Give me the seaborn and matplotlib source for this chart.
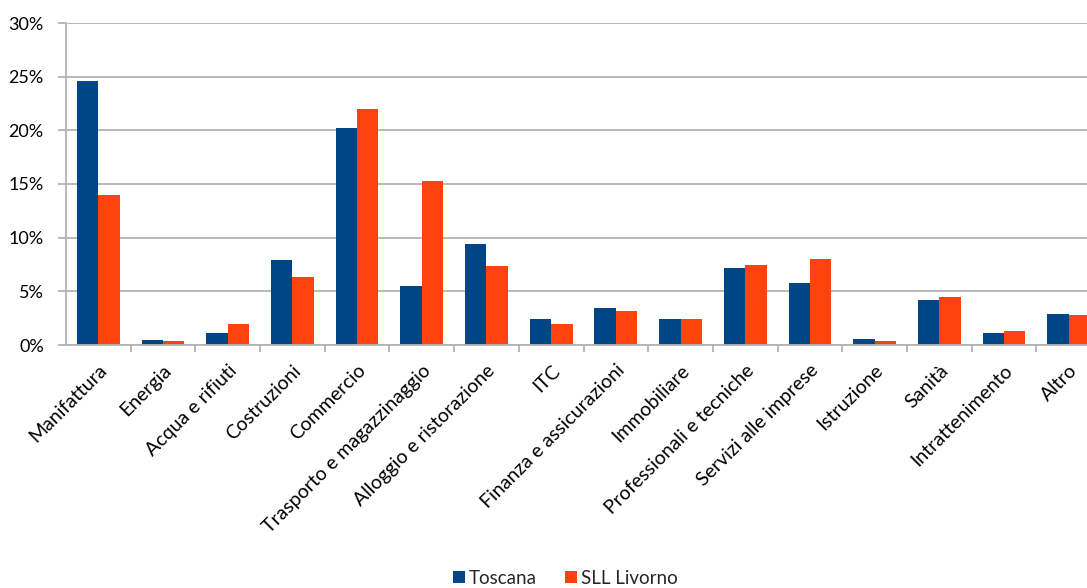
import matplotlib
matplotlib.use("Agg")
import matplotlib.pyplot as plt
import seaborn as sns
import pandas as pd
import numpy as np
from matplotlib.ticker import FuncFormatter, FixedLocator
from matplotlib.patches import Patch

categories = [
    "Manifattura", "Energia", "Acqua e rifiuti", "Costruzioni", "Commercio",
    "Trasporto e magazzinaggio", "Alloggio e ristorazione", "ITC",
    "Finanza e assicurazioni", "Immobiliare", "Professionali e tecniche",
    "Servizi alle imprese", "Istruzione", "Sanità", "Intrattenimento", "Altro",
]
toscana = [24.6, 0.45, 1.1, 7.9, 20.2, 5.5, 9.45, 2.4, 3.45, 2.45, 7.2, 5.75, 0.55, 4.2, 1.15, 2.9]
livorno = [14.0, 0.4, 1.95, 6.35, 22.0, 15.25, 7.4, 1.95, 3.2, 2.45, 7.45, 8.0, 0.4, 4.45, 1.3, 2.8]
series = ["Toscana", "SLL Livorno"]
colors = ["#004586", "#ff420e"]
y_ticks = [0, 5, 10, 15, 20, 25, 30]

df = pd.DataFrame({
    "settore": categories * 2,
    "valore": toscana + livorno,
    "area": [series[0]] * len(categories) + [series[1]] * len(categories),
})

sns.set_theme(style="white")
plt.rcParams["font.family"] = ["Lato", "DejaVu Sans"]

W, H = 1087, 588
fig = plt.figure(figsize=(W / 100, H / 100), dpi=100)
ax = fig.add_axes([66 / W, (H - 345) / H, (1101 - 66) / W, (345 - 23) / H])

sns.barplot(data=df, x="settore", y="valore", hue="area", order=categories,
            hue_order=series, palette=colors, width=0.66, gap=0,
            saturation=1, legend=False, ax=ax, edgecolor="none", linewidth=0)

ax.set_xlim(-0.5, len(categories) - 0.5)
ax.set_ylim(0, 30)
ax.yaxis.set_major_locator(FixedLocator(y_ticks))
ax.yaxis.set_major_formatter(FuncFormatter(lambda v, p: f"{v:.0f}%"))
ax.grid(axis="y", color="#b3b3b3", linewidth=1.3)
ax.set_axisbelow(True)

for s in ["top", "right"]:
    ax.spines[s].set_visible(False)
for s in ["left", "bottom"]:
    ax.spines[s].set_color("#b3b3b3")
    ax.spines[s].set_linewidth(1.3)

ax.tick_params(axis="y", which="major", length=6, width=1.3, color="#b3b3b3",
               labelsize=13, labelcolor="#000000", pad=10, left=True)
ax.set_xticks(np.arange(len(categories)))
ax.set_xticklabels(categories, rotation=45, ha="right", va="top",
                   rotation_mode="anchor", fontsize=14, color="#000000")
ax.tick_params(axis="x", which="major", length=0, pad=12)
ax.xaxis.set_minor_locator(FixedLocator(np.arange(0.5, len(categories), 1)))
ax.tick_params(axis="x", which="minor", length=5, width=1.3, color="#b3b3b3",
               bottom=True)
ax.set_xlabel("")
ax.set_ylabel("")

handles = [Patch(facecolor=c, edgecolor="none") for c in colors]
fig.legend(handles, series, loc="center", bbox_to_anchor=(565 / W, 1 - 578 / H),
           ncol=2, frameon=False, fontsize=13.5, handlelength=0.65,
           handleheight=0.65, handletextpad=0.2, columnspacing=1.5)

fig.savefig("out.png", dpi=100)
